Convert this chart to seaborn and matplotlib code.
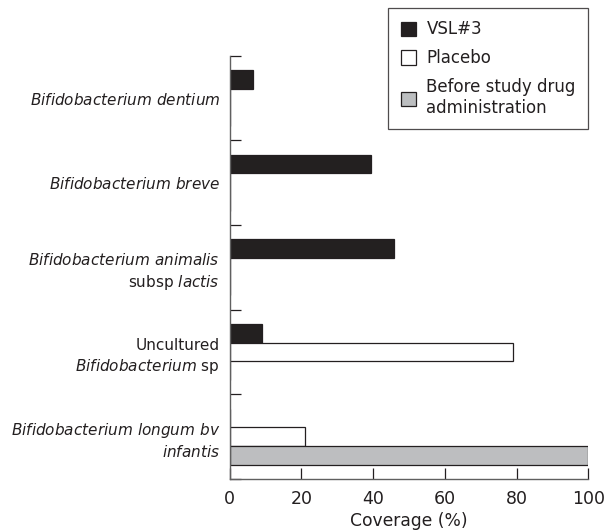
import matplotlib

matplotlib.use("Agg")
import matplotlib.pyplot as plt
import numpy as np
import pandas as pd
import seaborn as sns
from matplotlib.patches import Patch

# --- data ---
species = [
    r"$\mathit{Bifidobacterium\ dentium}$",
    r"$\mathit{Bifidobacterium\ breve}$",
    r"$\mathit{Bifidobacterium\ animalis}$" + "\n" + r"subsp $\mathit{lactis}$",
    "Uncultured\n" + r"$\mathit{Bifidobacterium}$ sp",
    r"$\mathit{Bifidobacterium\ longum\ bv}$" + "\n" + r"$\mathit{infantis}$",
]
groups = ["VSL#3", "Placebo", "Before study drug\nadministration"]
vsl3 = [6.6, 39.3, 45.9, 9.1, 0]
placebo = [0, 0, 0, 79.1, 21.0]
before = [0, 0, 0, 0, 100]

INK = "#231f20"
colors = {groups[0]: INK, groups[1]: "white", groups[2]: "#bcbec0"}

sns.set_theme(style="white")
plt.rcParams["font.family"] = ["DejaVu Sans"]
plt.rcParams["mathtext.fontset"] = "custom"
plt.rcParams["mathtext.rm"] = "DejaVu Sans"
plt.rcParams["mathtext.it"] = "DejaVu Sans:italic"

df = pd.DataFrame({
    "species": np.repeat(species, 3),
    "group": groups * len(species),
    "coverage": np.ravel(np.column_stack([vsl3, placebo, before])),
})

fig = plt.figure(figsize=(6.1, 5.32), dpi=100)
ax = fig.add_axes([0.3766, 0.0996, 0.588, 0.7957])
sns.barplot(
    data=df, y="species", x="coverage", hue="group",
    order=species, hue_order=groups, palette=colors,
    orient="h", width=0.66, edgecolor=INK, linewidth=0.9,
    errorbar=None, legend=False, ax=ax,
)
ax.set_xlim(0, 100)
ax.set_ylim(len(species) - 0.5, -0.5)
ax.set_xticks(range(0, 101, 20))
ax.set_xlabel("Coverage (%)", fontsize=12.3, color=INK, labelpad=3)
ax.set_ylabel("")

ax.set_yticks(range(len(species)))
ax.set_yticklabels(species, fontsize=11, color=INK, ha="right",
                   multialignment="right", linespacing=1.35)
ax.set_yticks(np.arange(-0.5, len(species)), minor=True)
ax.tick_params(axis="y", which="major", length=0, pad=7)
ax.tick_params(axis="y", which="minor", direction="in", length=8, width=0.9, color=INK, left=True)
ax.tick_params(axis="x", direction="in", length=8, width=0.9, color=INK, labelsize=12.5,
               labelcolor=INK, pad=8, bottom=True)

for side in ["top", "right"]:
    ax.spines[side].set_visible(False)
for side in ["left", "bottom"]:
    ax.spines[side].set_color("#606060")
    ax.spines[side].set_linewidth(1.0)

handles = [Patch(facecolor=colors[g], edgecolor=INK, linewidth=0.9) for g in groups]
leg = fig.legend(
    handles, groups, loc="upper right", bbox_to_anchor=(0.9645, 0.985),
    frameon=True, fancybox=False, fontsize=12, handlelength=0.95, handleheight=0.95,
    handletextpad=0.6, labelspacing=0.65, borderpad=0.75, borderaxespad=0,
)
leg.get_frame().set_edgecolor(INK)
leg.get_frame().set_linewidth(0.9)
for t in leg.get_texts():
    t.set_color(INK)

fig.savefig("out.png", dpi=100, facecolor="white")
